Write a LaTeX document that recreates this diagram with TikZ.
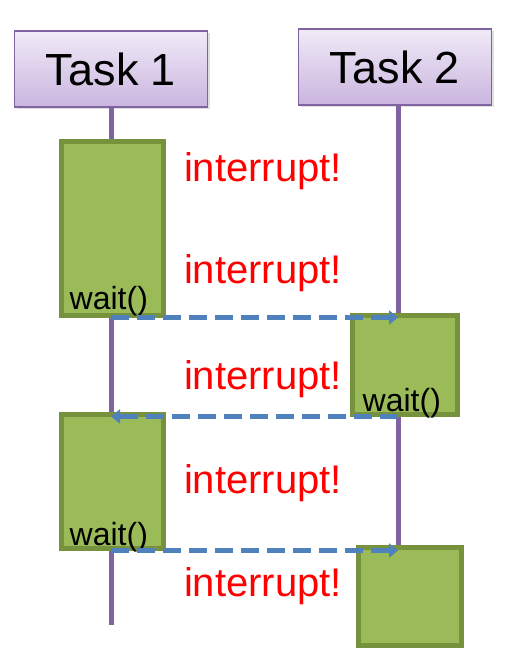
\documentclass[tikz,border=0pt]{standalone}
\usepackage{fontspec}
\setmainfont{Liberation Sans}
\usetikzlibrary{arrows.meta}
\usetikzlibrary{positioning}
\usetikzlibrary{shadows}
\definecolor{lifepurple}{HTML}{8064A2}
\definecolor{tasktop}{HTML}{F0EAF7}
\definecolor{taskbot}{HTML}{CAB5DF}
\definecolor{actfill}{HTML}{9BBB59}
\definecolor{actline}{HTML}{76923C}
\definecolor{msgblue}{HTML}{4F81BD}
\definecolor{irqred}{HTML}{FF0000}

\begin{document}
\begin{tikzpicture}[
    x=1pt, y=-1pt,
    >=Stealth,
    every node/.style={font=\fontsize{32}{38}\selectfont},
    task/.style={rectangle, draw=lifepurple, line width=1.5pt, top color=tasktop, bottom color=taskbot,
        minimum width=193pt, minimum height=76pt, inner sep=0pt, font=\fontsize{45}{52}\selectfont,
        drop shadow={shadow xshift=2pt, shadow yshift=-2pt, opacity=0.25}},
    life/.style={draw=lifepurple, line width=5pt},
    act/.style={rectangle, draw=actline, fill=actfill, line width=5pt, inner sep=0pt,
        drop shadow={shadow xshift=2pt, shadow yshift=-2pt, opacity=0.25}},
    waitlbl/.style={anchor=base west, inner sep=0pt},
    irq/.style={text=irqred, font=\fontsize{40}{46}\selectfont, inner sep=0pt},
    msg/.style={draw=msgblue, line width=4.5pt, dash pattern=on 18pt off 8pt,
        -{Triangle[length=9pt, width=14pt]}}
]
\useasboundingbox (0,0) rectangle (530,659);

% Nodes
\node[task] (t1) at (111,69) {Task 1};
\node[task] (t2) at (395,67) {Task 2};
\coordinate (end1) at (111,625);
\coordinate (end2) at (398,546);

\draw[life] (t1.south) -- (end1);
\draw[life] (t2.south -| end2) -- (end2);

\node[act, minimum width=102pt, minimum height=174pt] (a1) at (112,228) {};
\node[act, minimum width=105pt, minimum height=99pt] (b1) at (404.5,364.5) {};
\node[act, minimum width=102pt, minimum height=134pt] (c1) at (112,481) {};
\node[act, minimum width=103pt, minimum height=98pt] (d1) at (409.5,596) {};

\node[waitlbl] (w1) at ([shift={(11,-8)}]a1.south west) {wait()};
\node[waitlbl] (w2) at ([shift={(13,-5)}]b1.south west) {wait()};
\node[waitlbl] (w3) at ([shift={(11,-5)}]c1.south west) {wait()};

\node[irq] (i1) at (263,171) {interrupt!};
\node[irq] (i2) at (263,273) {interrupt!};
\node[irq] (i3) at (263,379) {interrupt!};
\node[irq] (i4) at (263,483) {interrupt!};
\node[irq] (i5) at (263,586) {interrupt!};

% Edges
\draw[msg] (a1.south -| end1) -- (a1.south -| end2);
\draw[msg] (b1.south -| end2) -- (b1.south -| end1);
\draw[msg] (c1.south -| end1) -- (c1.south -| end2);

\end{tikzpicture}
\end{document}
